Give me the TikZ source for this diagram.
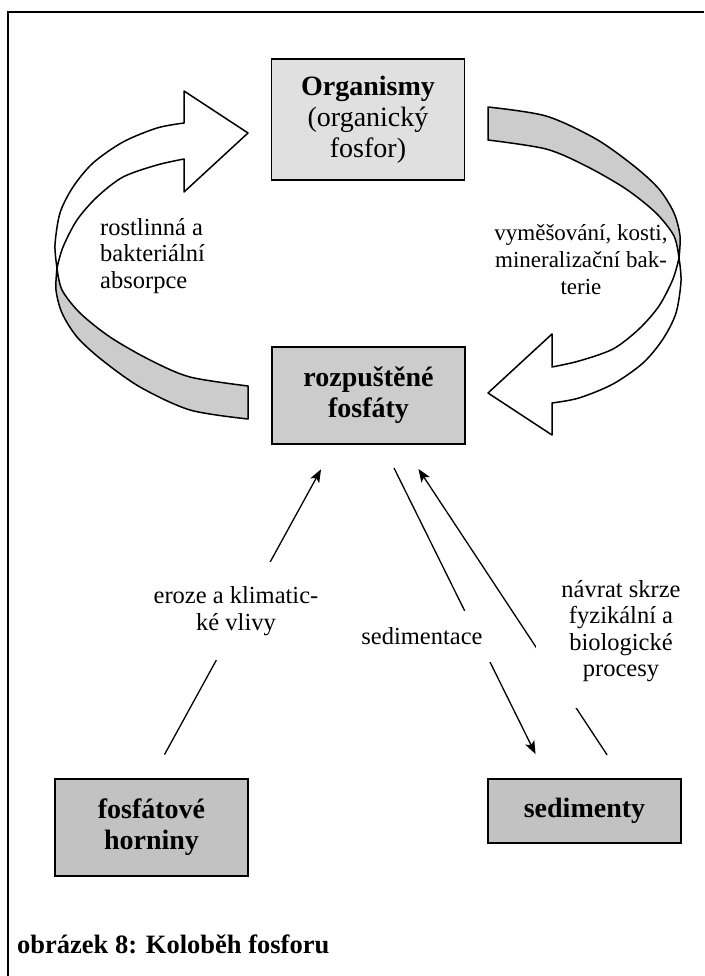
\documentclass[tikz,border=0pt]{standalone}
\usepackage{fontspec}
\setmainfont{Liberation Serif}
\usetikzlibrary{arrows.meta}
\definecolor{orggray}{gray}{0.88}
\definecolor{boxgray}{gray}{0.8}
\definecolor{rockgray}{gray}{0.76}
\definecolor{ribgray}{gray}{0.8}
\tikzset{%
    box/.style={draw, line width=1.5pt, fill=boxgray, align=center,
        minimum width=193pt, inner sep=2pt,
        font=\fontsize{28}{31}\selectfont\bfseries},
    lbl/.style={align=center, inner sep=0pt,
        font=\fontsize{24.5}{26.5}\selectfont},
    cutlbl/.style={lbl, fill=white},
    arr/.style={line width=1.3pt, -{Stealth[length=13pt,width=10pt,inset=3pt]}},
    rib/.style={line width=1.5pt, line join=round}
}

\begin{document}
\begin{tikzpicture}[x=1pt, y=-1pt]
\useasboundingbox (0,0) rectangle (704,976);
% page frame
\draw[line width=2pt] (8,976) -- (8,12) -- (704,12);

% the two twisted ribbon arrows
\foreach \a in {0,180} {
  \begin{scope}[rotate around={\a:(368,263)}]
    \filldraw[rib, fill=ribgray] plot[smooth] coordinates {(57,268) (62,290) (80,313) (110,337) (150,360) (190,377) (248,386)}
      -- plot[smooth] coordinates {(248,419) (190,410) (140,387) (102,360) (77,337) (62,313) (56,290) (57,268)} -- cycle;
    \filldraw[rib, fill=white] plot[smooth] coordinates {(57,268) (55,245) (60,213) (73,187) (93,163) (123,142) (157,128) (184,123)}
      -- (184,91) -- (248,133) -- (184,192)
      -- plot[smooth] coordinates {(184,159) (157,165) (123,177) (97,197) (77,220) (63,247) (57,268)} -- cycle;
  \end{scope}
}

% boxes
\node[box, fill=orggray, minimum height=121pt, font=\fontsize{28}{31}\selectfont] (org) at (368,119.5)
    {\textbf{Organismy}\\(organický\\fosfor)};
\node[box, minimum height=97pt] (rozp) at (368.5,395.5) {rozpuštěné\\fosfáty};
\node[box, fill=rockgray, minimum height=97pt] (fosf) at (151.5,827.5) {fosfátové\\horniny};
\node[box, fill=rockgray, minimum height=64pt] (sedi) at (584.5,811) {sedimenty};

% ribbon labels
\node[lbl, align=left, anchor=west] (absorb) at (100,256) {rostlinná a\\bakteriální\\absorpce};
\node[lbl, font=\fontsize{23}{27}\selectfont] (vymes) at (581,260) {vyměšování, kosti,\\mineralizační bak-\\terie};

% thin arrows
\draw[arr, shorten <=27pt, shorten >=28pt] (fosf.north) -- ([xshift=-34pt]rozp.south);
\draw[arr, shorten <=26pt, shorten >=27pt] ([xshift=14pt]rozp.south) -- ([xshift=-37pt]sedi.north);
\draw[arr, shorten <=28pt, shorten >=29pt] ([xshift=38pt]sedi.north) -- ([xshift=34pt]rozp.south);

% labels on the arrows
\node[cutlbl, minimum width=182pt, minimum height=98pt] (eroze) at (236,611) {eroze a klimatic-\\ké vlivy};
\node[cutlbl, minimum width=138pt, minimum height=51pt] (sedim) at (422,636.5) {sedimentace};
\node[cutlbl, minimum width=170pt, minimum height=154pt] (navrat) at (621,631) {návrat skrze\\fyzikální a\\biologické\\procesy};

% caption
\node[anchor=base west, inner sep=0pt, font=\fontsize{26.5}{30}\selectfont\bfseries] (capt) at (17,953)
    {obrázek 8: Koloběh fosforu};
\end{tikzpicture}
\end{document}
